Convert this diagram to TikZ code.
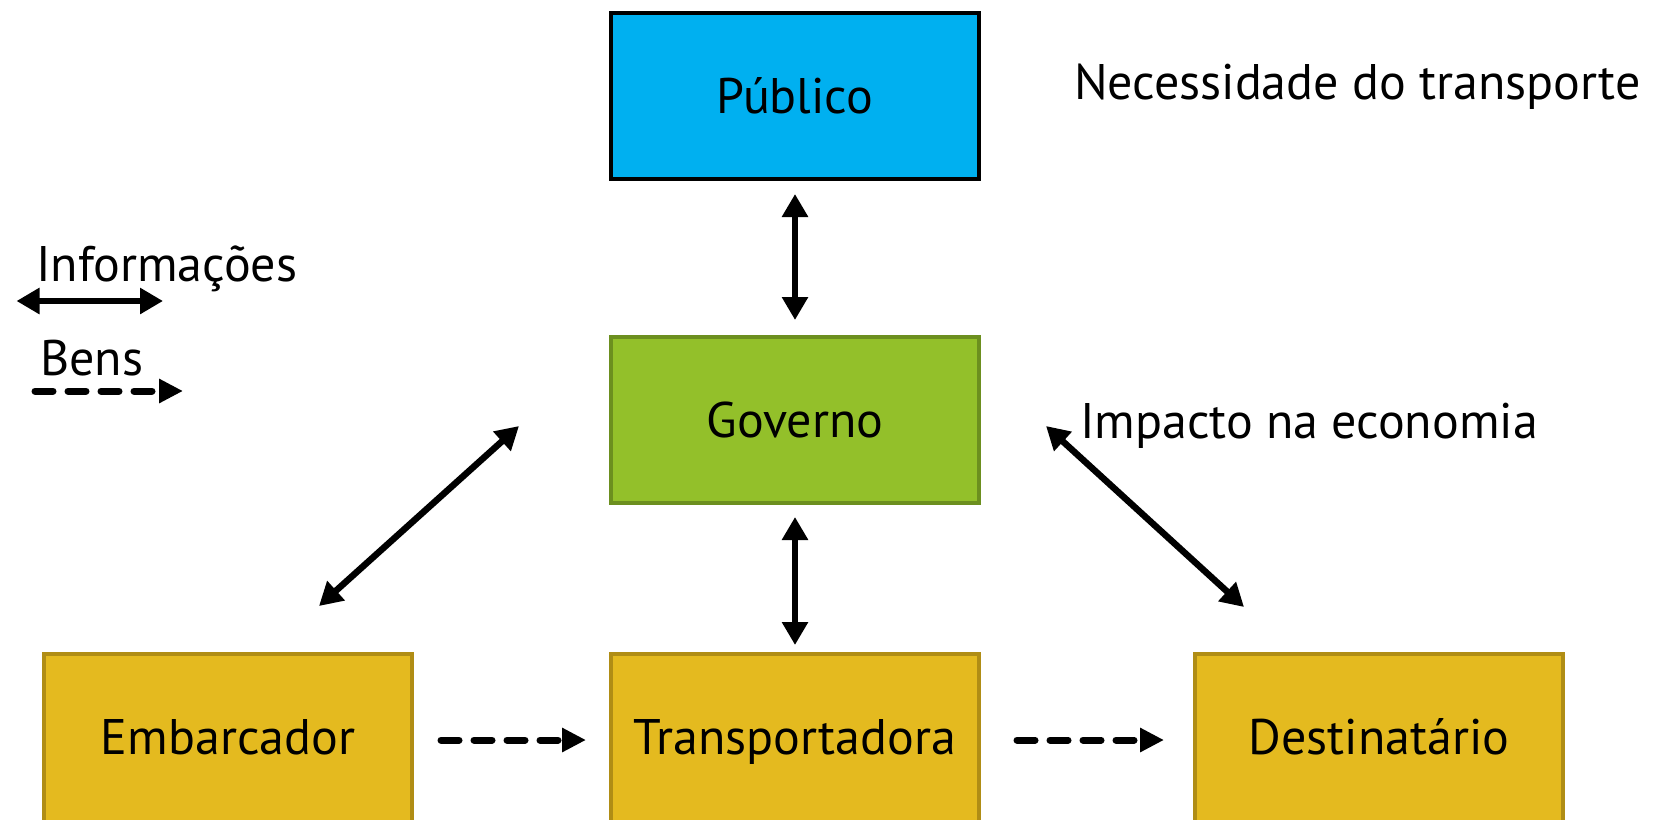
\documentclass[tikz,border=0pt]{standalone}
\usepackage{fontspec}
\setmainfont{PT Sans}
\usetikzlibrary{arrows.meta,calc}
\definecolor{pubblue}{HTML}{00B0F0}
\definecolor{govgreen}{HTML}{93C02A}
\definecolor{govedge}{HTML}{6C8F1F}
\definecolor{actyellow}{HTML}{E4BA1F}
\definecolor{actedge}{HTML}{B08D15}
\tikzset{
  bigfont/.style={font=\fontsize{50}{60}\selectfont},
  box/.style={bigfont, line width=4pt, minimum width=368pt, minimum height=166pt,
    inner sep=0pt, text height=35pt, text depth=0pt},
  pubbox/.style={box, draw=black, fill=pubblue},
  govbox/.style={box, draw=govedge, fill=govgreen},
  actbox/.style={box, draw=actedge, fill=actyellow, minimum height=200pt, text depth=34pt},
  txt/.style={bigfont, inner sep=0pt, anchor=base west},
  info/.style={line width=6.5pt, {Triangle[length=23pt,width=25pt]}-{Triangle[length=23pt,width=25pt]}},
  goods/.style={line width=7pt, line cap=round, dash pattern=on 18pt off 15pt,
    -{Triangle[length=24pt,width=23pt]}},
}
\begin{document}
\begin{tikzpicture}[x=1pt,y=-1pt]
\useasboundingbox (0,0) rectangle (1653,819);
\clip (0,0) rectangle (1653,819);
% boxes
\node[pubbox] (pub) at (795,96) {Público};
\node[govbox] (gov) at (795,420) {Governo};
\node[actbox] (emb) at (228,754) {Embarcador};
\node[actbox] (tra) at (795,754) {Transportadora};
\node[actbox] (dest) at (1379,754) {Destinatário};
% free texts
\node[txt] (nec) at (1074,99) {Necessidade do transporte};
\node[txt] (imp) at (1080,438) {Impacto na economia};
\node[txt] (linfo) at (36,281) {Informações};
\node[txt] (lbens) at (40,375) {Bens};
% legend arrows
\coordinate (li1) at (16.5,301);
\coordinate (li2) at (163,301);
\coordinate (lb1) at (35,391);
\coordinate (lb2) at (183,391);
\draw[info] (li1) -- (li2);
\draw[goods] (lb1) -- (lb2);
% information arrows
\draw[info, shorten <=13pt, shorten >=15pt] (pub.south) -- (gov.north);
\draw[info, shorten <=12pt, shorten >=7pt] (gov.south) -- (tra.north);
\draw[info] ($(emb.north)+(91,-46)$) -- ($(gov.west)+(-90,6)$);
\draw[info] ($(gov.east)+(65,6)$) -- ($(dest.north)+(-135,-45)$);
% goods arrows
\draw[goods] ($(emb.east)+(27,-14)$) -- ($(tra.west)+(-23,-14)$);
\draw[goods] ($(tra.east)+(36,-14)$) -- ($(dest.west)+(-29,-14)$);
\end{tikzpicture}
\end{document}
